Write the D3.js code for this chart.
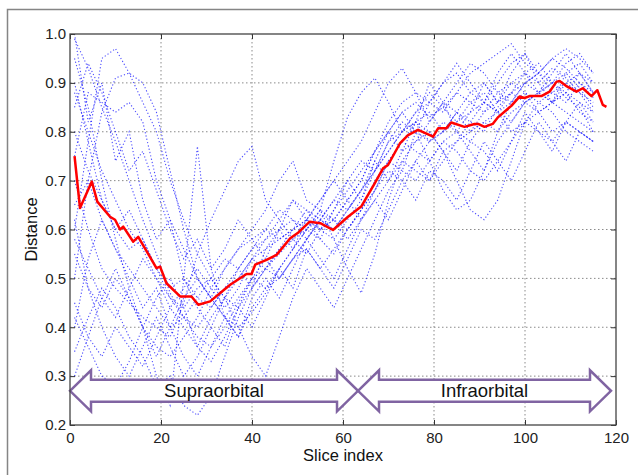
<!doctype html>
<html lang="en">
<head>
  <meta charset="utf-8">
  <title>Distance by slice index</title>
  <script src="https://cdnjs.cloudflare.com/ajax/libs/d3/7.8.5/d3.min.js"></script>
  <style>
    body { margin: 0; background: #fff; }
    text { font-family: Arial, "Liberation Sans", sans-serif; }
  </style>
</head>
<body>
<div id="chart"></div>
<script>

// tick values
var xTicks = [0, 20, 40, 60, 80, 100, 120];
var yTicks = [0.2, 0.3, 0.4, 0.5, 0.6, 0.7, 0.8, 0.9, 1.0];

// slice indices shared by the individual (blue) curves
var sliceX = [1, 4, 7, 10, 13, 16, 19, 22, 25, 28, 31, 34, 37, 40, 43, 46, 49, 52, 55, 58,
              61, 64, 67, 70, 73, 76, 79, 82, 85, 88, 91, 94, 97, 100, 103, 106, 109, 112, 115];

// individual curves
var curve1  = [0.99,0.93,0.85,0.78,0.70,0.62,0.55,0.47,0.42,0.38, 0.36,0.40,0.45,0.50,0.52,0.56,0.58,0.60,0.63,0.62, 0.66,0.70,0.76,0.80,0.84,0.86,0.83,0.85,0.88,0.86, 0.84,0.88,0.90,0.92,0.90,0.93,0.91,0.88,0.86];
var curve2  = [0.60,0.78,0.95,0.97,0.92,0.86,0.80,0.70,0.62,0.55, 0.50,0.46,0.44,0.48,0.52,0.55,0.58,0.62,0.60,0.58, 0.62,0.66,0.72,0.78,0.82,0.80,0.78,0.80,0.84,0.82, 0.80,0.85,0.88,0.90,0.92,0.95,0.93,0.90,0.87];
var curve3  = [0.50,0.70,0.84,0.91,0.92,0.90,0.84,0.72,0.60,0.50, 0.46,0.42,0.40,0.43,0.47,0.52,0.56,0.60,0.64,0.62, 0.60,0.64,0.70,0.74,0.78,0.82,0.80,0.76,0.78,0.82, 0.86,0.84,0.88,0.86,0.88,0.90,0.92,0.89,0.85];
var curve4  = [0.42,0.36,0.30,0.28,0.33,0.40,0.46,0.50,0.44,0.36, 0.33,0.38,0.44,0.50,0.48,0.52,0.56,0.60,0.58,0.55, 0.60,0.64,0.68,0.74,0.78,0.76,0.74,0.78,0.80,0.76, 0.72,0.78,0.82,0.86,0.84,0.86,0.88,0.84,0.82];
var curve5  = [0.95,0.85,0.70,0.58,0.48,0.40,0.30,0.24,0.50,0.77, 0.52,0.42,0.38,0.44,0.48,0.50,0.54,0.58,0.62,0.60, 0.64,0.68,0.72,0.76,0.80,0.82,0.78,0.80,0.82,0.84, 0.86,0.84,0.86,0.90,0.88,0.86,0.90,0.88,0.84];
var curve6  = [0.70,0.60,0.52,0.48,0.45,0.42,0.40,0.38,0.45,0.55, 0.62,0.68,0.74,0.77,0.66,0.62,0.58,0.55,0.60,0.62, 0.58,0.62,0.66,0.70,0.74,0.72,0.70,0.74,0.78,0.80, 0.82,0.80,0.84,0.86,0.88,0.90,0.87,0.85,0.80];
var curve7  = [0.55,0.48,0.44,0.50,0.46,0.40,0.36,0.34,0.38,0.42, 0.48,0.52,0.56,0.60,0.64,0.70,0.74,0.66,0.64,0.74, 0.83,0.88,0.91,0.86,0.80,0.84,0.86,0.90,0.92,0.88, 0.86,0.90,0.94,0.96,0.92,0.90,0.94,0.96,0.92];
var curve8  = [0.45,0.38,0.34,0.40,0.36,0.32,0.38,0.44,0.40,0.36, 0.42,0.46,0.40,0.34,0.30,0.38,0.46,0.52,0.48,0.44, 0.50,0.56,0.62,0.68,0.72,0.70,0.74,0.78,0.76,0.72, 0.70,0.74,0.78,0.82,0.80,0.78,0.82,0.80,0.78];
var curve9  = [0.80,0.72,0.66,0.60,0.56,0.58,0.52,0.48,0.50,0.46, 0.44,0.48,0.52,0.56,0.58,0.60,0.62,0.60,0.64,0.58, 0.52,0.47,0.55,0.66,0.74,0.78,0.80,0.76,0.70,0.64, 0.62,0.66,0.74,0.82,0.86,0.84,0.80,0.78,0.76];
var curve10 = [0.88,0.80,0.72,0.66,0.60,0.56,0.50,0.46,0.42,0.40, 0.44,0.48,0.50,0.54,0.56,0.58,0.60,0.62,0.60,0.62, 0.66,0.70,0.76,0.82,0.86,0.88,0.86,0.84,0.88,0.92, 0.94,0.96,0.98,0.94,0.92,0.95,0.97,0.95,0.92];
var curve11 = [0.65,0.70,0.62,0.56,0.52,0.48,0.44,0.40,0.42,0.46, 0.50,0.54,0.52,0.56,0.60,0.58,0.60,0.62,0.66,0.70, 0.74,0.78,0.84,0.90,0.93,0.88,0.82,0.86,0.90,0.94, 0.92,0.88,0.86,0.90,0.92,0.88,0.86,0.90,0.88];
var curve12 = [0.35,0.42,0.48,0.44,0.38,0.34,0.28,0.30,0.24,0.22, 0.26,0.34,0.42,0.48,0.52,0.50,0.54,0.56,0.52,0.56, 0.60,0.64,0.68,0.72,0.70,0.74,0.78,0.82,0.80,0.78, 0.82,0.84,0.80,0.82,0.84,0.86,0.88,0.86,0.84];
var curve13 = [0.58,0.52,0.46,0.42,0.48,0.54,0.50,0.44,0.48,0.52, 0.48,0.44,0.48,0.54,0.58,0.62,0.66,0.64,0.62,0.66, 0.70,0.74,0.72,0.76,0.80,0.84,0.88,0.85,0.82,0.86, 0.88,0.84,0.82,0.86,0.88,0.86,0.84,0.82,0.80];
var curve14 = [0.90,0.78,0.66,0.60,0.64,0.58,0.52,0.46,0.44,0.48, 0.50,0.46,0.50,0.54,0.52,0.56,0.60,0.64,0.60,0.64, 0.68,0.72,0.76,0.80,0.84,0.80,0.74,0.68,0.64,0.66, 0.72,0.80,0.86,0.88,0.84,0.80,0.82,0.80,0.78];
var curve15 = [0.75,0.88,0.86,0.84,0.86,0.82,0.70,0.62,0.56,0.50, 0.46,0.42,0.46,0.50,0.54,0.50,0.54,0.58,0.62,0.60, 0.64,0.68,0.72,0.78,0.80,0.82,0.84,0.80,0.84,0.88, 0.90,0.86,0.88,0.92,0.94,0.90,0.88,0.92,0.90];
var curve16 = [0.30,0.38,0.46,0.52,0.46,0.40,0.34,0.40,0.46,0.50, 0.46,0.52,0.56,0.58,0.60,0.64,0.62,0.58,0.62,0.66, 0.64,0.68,0.74,0.70,0.76,0.78,0.82,0.86,0.84,0.80, 0.84,0.86,0.90,0.88,0.86,0.88,0.90,0.92,0.88];
var curve17 = [1.00,0.82,0.90,0.74,0.80,0.66,0.58,0.62,0.50,0.44, 0.40,0.46,0.52,0.48,0.56,0.60,0.66,0.62,0.58,0.64, 0.70,0.66,0.74,0.80,0.76,0.82,0.90,0.86,0.80,0.84, 0.90,0.86,0.92,0.96,0.90,0.86,0.92,0.94,0.90];
var curve18 = [0.62,0.48,0.40,0.34,0.30,0.36,0.42,0.36,0.30,0.34, 0.40,0.36,0.44,0.40,0.46,0.52,0.48,0.56,0.52,0.48, 0.54,0.60,0.58,0.64,0.70,0.66,0.72,0.70,0.66,0.72, 0.78,0.74,0.70,0.76,0.82,0.78,0.74,0.80,0.78];
var curve19 = [0.85,0.94,0.88,0.80,0.72,0.76,0.68,0.60,0.54,0.58, 0.52,0.56,0.62,0.58,0.54,0.60,0.56,0.62,0.66,0.70, 0.66,0.62,0.68,0.74,0.72,0.80,0.86,0.90,0.94,0.90, 0.86,0.92,0.96,0.92,0.88,0.92,0.96,0.92,0.88];
var curve20 = [0.40,0.54,0.62,0.56,0.50,0.44,0.48,0.40,0.34,0.30, 0.36,0.42,0.38,0.46,0.50,0.46,0.52,0.58,0.54,0.50, 0.56,0.62,0.66,0.62,0.68,0.74,0.70,0.76,0.72,0.78, 0.76,0.72,0.78,0.84,0.80,0.76,0.82,0.86,0.82];

// mean curve (red)
var meanX = [1,2.2,4.8,6,8.8,9.9,11,11.7,13.9,15, 19,19.8,21.2,24.2,26.7,28.2,30.8,35.2,38.8,39.9,
             40.7,43.2,45.4,48.4,50.2,52.7,55,57.8,61.1,64, 67,68.8,69.9,72.5,74.3,76.5,79.8,80.9,82.7,83.8,
             86.7,88.9,89.7,91.1,92.9,94.1,97,98.8,99.9,101, 103.6,105.4,106.9,107.6,109,111.3,112.7,114.6,115.9,117.1,
             117.9];
var meanY = [0.75,0.644,0.698,0.657,0.626,0.62,0.60,0.606,0.575,0.585, 0.521,0.524,0.49,0.463,0.463,0.446,0.453,0.487,0.509,0.509,
             0.528,0.538,0.548,0.582,0.594,0.616,0.613,0.599,0.626,0.647, 0.695,0.725,0.732,0.776,0.793,0.804,0.79,0.807,0.807,0.819,
             0.81,0.816,0.816,0.81,0.816,0.83,0.853,0.872,0.869,0.873, 0.873,0.882,0.902,0.904,0.894,0.882,0.889,0.873,0.885,0.855,
             0.851];

// regions along the slice axis
var regionNames = ["Supraorbital", "Infraorbital"];
var regionStart = [0, 63.3];
var regionEnd   = [63.3, 118.9];

var curves = [curve1, curve2, curve3, curve4, curve5, curve6, curve7, curve8, curve9, curve10,
              curve11, curve12, curve13, curve14, curve15, curve16, curve17, curve18, curve19, curve20];

// set the dimensions and margins of the graph
var margin = {top: 34, right: 22, bottom: 50, left: 70},
    width = 638 - margin.left - margin.right,
    height = 475 - margin.top - margin.bottom;

var root = d3.select("#chart")
  .append("svg")
    .attr("width", 638)
    .attr("height", 475);

// grey frame around the figure
root.append("path")
  .attr("d", "M7.5,475V9.5H638")
  .attr("fill", "none")
  .attr("stroke", "#858585")
  .attr("stroke-width", 1.5);

var svg = root.append("g")
  .attr("transform", "translate(" + margin.left + "," + margin.top + ")");

var x = d3.scaleLinear().domain([0, 120]).range([0, width]);
var y = d3.scaleLinear().domain([0.2, 1.0]).range([height, 0]);

// dotted grid
svg.append("g").selectAll("line")
  .data(xTicks.slice(1, -1))
  .enter().append("line")
    .attr("x1", function(d) { return x(d); })
    .attr("x2", function(d) { return x(d); })
    .attr("y1", 0).attr("y2", height)
    .attr("stroke", "#8a8a8a")
    .attr("stroke-dasharray", "1.5,2.5");
svg.append("g").selectAll("line")
  .data(yTicks.slice(1, -1))
  .enter().append("line")
    .attr("y1", function(d) { return y(d); })
    .attr("y2", function(d) { return y(d); })
    .attr("x1", 0).attr("x2", width)
    .attr("stroke", "#8a8a8a")
    .attr("stroke-dasharray", "1.5,2.5");

// individual curves
var line = d3.line()
  .x(function(d) { return x(d[0]); })
  .y(function(d) { return y(d[1]); });

svg.append("g").selectAll("path")
  .data(curves)
  .enter().append("path")
    .attr("d", function(c) { return line(c.map(function(v, i) { return [sliceX[i], v]; })); })
    .attr("fill", "none")
    .attr("stroke", "#1f1fff")
    .attr("stroke-opacity", 0.8)
    .attr("stroke-width", 1.1)
    .attr("stroke-dasharray", "1.2,2.2");

// mean curve
svg.append("path")
  .attr("d", line(meanX.map(function(v, i) { return [v, meanY[i]]; })))
  .attr("fill", "none")
  .attr("stroke", "#ff0000")
  .attr("stroke-width", 2.5)
  .attr("stroke-linejoin", "round");

// region arrows
var midY = y(0.27), shaft = 11, barb = 20.5, head = 21;
function arrowPath(i) {
  var a = x(regionStart[i]), b = x(regionEnd[i]);
  return "M" + a + "," + midY +
    "L" + (a + head) + "," + (midY - barb) +
    "V" + (midY - shaft) + "H" + (b - head) +
    "V" + (midY - barb) + "L" + b + "," + midY +
    "L" + (b - head) + "," + (midY + barb) +
    "V" + (midY + shaft) + "H" + (a + head) +
    "V" + (midY + barb) + "Z";
}
var arrows = svg.append("g").selectAll("g")
  .data(regionNames)
  .enter().append("g");
arrows.append("path")
  .attr("d", function(d, i) { return arrowPath(i); })
  .attr("fill", "#fff")
  .attr("stroke", "#8064a2")
  .attr("stroke-width", 2.5)
  .attr("stroke-linejoin", "miter");
arrows.append("text")
  .attr("x", function(d, i) { return x((regionStart[i] + regionEnd[i]) / 2); })
  .attr("y", midY)
  .attr("dy", "0.35em")
  .attr("text-anchor", "middle")
  .attr("font-size", "18.5px")
  .attr("fill", "#111")
  .text(function(d) { return d; });

// axes box with inward ticks
function styleAxis(g) {
  g.select(".domain").remove();
  g.selectAll(".tick line").attr("stroke", "#333");
  g.selectAll(".tick text").attr("fill", "#222").attr("font-size", "15px")
    .attr("font-family", "Arial, 'Liberation Sans', sans-serif");
}
svg.append("g")
  .attr("transform", "translate(0," + height + ")")
  .call(d3.axisBottom(x).tickValues(xTicks).tickSizeInner(-5).tickSizeOuter(0).tickPadding(7))
  .call(styleAxis);
svg.append("g")
  .call(d3.axisLeft(y).tickValues(yTicks).tickFormat(d3.format(".1f")).tickSizeInner(-5).tickSizeOuter(0).tickPadding(4))
  .call(styleAxis);
svg.append("g")
  .call(d3.axisTop(x).tickValues(xTicks).tickFormat("").tickSizeInner(-5).tickSizeOuter(0))
  .call(styleAxis);
svg.append("g")
  .attr("transform", "translate(" + width + ",0)")
  .call(d3.axisRight(y).tickValues(yTicks).tickFormat("").tickSizeInner(-5).tickSizeOuter(0))
  .call(styleAxis);
svg.append("rect")
  .attr("width", width).attr("height", height)
  .attr("fill", "none")
  .attr("stroke", "#444")
  .attr("stroke-width", 1.3);

// axis titles
svg.append("text")
  .attr("x", width / 2)
  .attr("y", height + 36)
  .attr("text-anchor", "middle")
  .attr("font-size", "16.5px")
  .attr("fill", "#111")
  .text("Slice index");
svg.append("text")
  .attr("transform", "translate(-33," + (height / 2) + ")rotate(-90)")
  .attr("text-anchor", "middle")
  .attr("font-size", "16.5px")
  .attr("fill", "#111")
  .text("Distance");

</script>
</body>
</html>
